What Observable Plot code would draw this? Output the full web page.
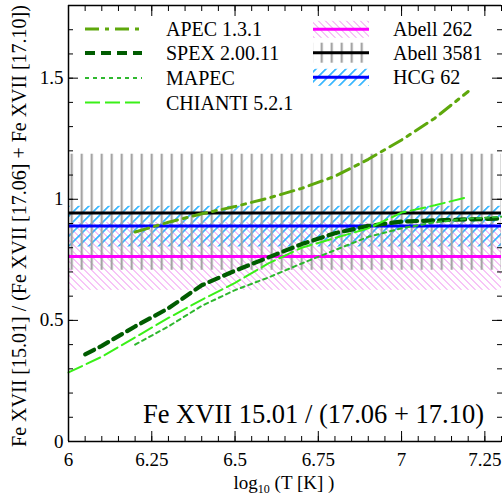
<!DOCTYPE html>
<html>
<head>
<meta charset="utf-8">
<script src="https://cdn.jsdelivr.net/npm/d3@7"></script>
<script src="https://cdn.jsdelivr.net/npm/@observablehq/plot@0.6"></script>
<style>
  html, body { margin: 0; padding: 0; background: #fff; overflow: hidden; }
  svg { display: block; }
</style>
</head>
<body>
<div id="chart"></div>
<script>
// Fe XVII 15.01 / (17.06 + 17.10) line ratio versus log10 temperature
const apecT = [6.2, 6.3, 6.4, 6.5, 6.6, 6.7, 6.8, 6.9, 7.0, 7.1, 7.2];
const apecR = [0.865, 0.905, 0.94, 0.97, 1.005, 1.045, 1.095, 1.165, 1.245, 1.335, 1.445];

const spexT = [6.05, 6.1, 6.2, 6.3, 6.4, 6.5, 6.6, 6.7, 6.8, 6.9, 7.0, 7.1, 7.2, 7.3];
const spexR = [0.36, 0.395, 0.475, 0.55, 0.645, 0.705, 0.76, 0.815, 0.86, 0.89, 0.908, 0.913, 0.917, 0.92];

const mapecT = [6.2, 6.3, 6.4, 6.5, 6.6, 6.7, 6.8, 6.9, 7.0, 7.1, 7.2, 7.3];
const mapecR = [0.40, 0.475, 0.56, 0.625, 0.677, 0.735, 0.79, 0.845, 0.88, 0.905, 0.92, 0.928];

const chiantiT = [6.0, 6.1, 6.2, 6.3, 6.4, 6.5, 6.6, 6.7, 6.8, 6.9, 7.0, 7.1, 7.2];
const chiantiR = [0.285, 0.35, 0.43, 0.51, 0.585, 0.655, 0.735, 0.80, 0.84, 0.88, 0.945, 0.975, 1.01];

// measured ratios for the groups and clusters, with their error ranges
const obsNames = ["Abell 262", "Abell 3581", "HCG 62"];
const obsRatio = [0.764, 0.943, 0.89];
const obsLow = [0.624, 0.707, 0.803];
const obsHigh = [0.904, 1.186, 0.971];

const xMajor = [6, 6.25, 6.5, 6.75, 7, 7.25];
const yMajor = [0, 0.5, 1, 1.5];
const xMinor = d3.range(0, 27).map(i => 6 + i * 0.05);
const yMinor = d3.range(0, 19).map(i => i * 0.1);

// drawing styles
const modelStyle = {
  "APEC 1.3.1":   {stroke: "#5ea80c", width: 3,   dash: "14,6,4,6"},
  "SPEX 2.00.11": {stroke: "#005c00", width: 4.2, dash: "10,6"},
  "MAPEC":        {stroke: "#2fb82f", width: 2,   dash: "4,4"},
  "CHIANTI 5.2.1":{stroke: "#3af018", width: 2,   dash: "15,5"}
};
const obsStyle = {
  "Abell 262":  {stroke: "#ff00ff", width: 3,   fill: "url(#hatch-a262)"},
  "Abell 3581": {stroke: "#000000", width: 3,   fill: "url(#bars-a3581)"},
  "HCG 62":     {stroke: "#0000ff", width: 3,   fill: "url(#hatch-hcg62)"}
};

const models = [
  ["APEC 1.3.1", apecT, apecR],
  ["SPEX 2.00.11", spexT, spexR],
  ["MAPEC", mapecT, mapecR],
  ["CHIANTI 5.2.1", chiantiT, chiantiR]
].map(([name, T, R]) => ({name, rows: T.map((t, i) => ({T: t, R: R[i]}))}));

const obs = obsNames.map((name, i) => ({name, ratio: obsRatio[i], low: obsLow[i], high: obsHigh[i]}));
const obsOf = name => obs.filter(d => d.name === name);

const fmt = d => String(+d.toFixed(2));
const serif = "'Liberation Serif', 'DejaVu Serif', serif";

const svg = Plot.plot({
  width: 502,
  height: 497,
  marginLeft: 68,
  marginRight: 1,
  marginTop: 5,
  marginBottom: 56,
  x: {domain: [6, 7.3]},
  y: {domain: [0, 1.8]},
  style: {fontFamily: serif, fontSize: "19px", color: "#000", background: "#fff"},
  marks: [
    // error bands
    Plot.rect(obsOf("Abell 262"), {y1: "low", y2: "high", fill: obsStyle["Abell 262"].fill}),
    Plot.rect(obsOf("HCG 62"), {y1: "low", y2: "high", fill: obsStyle["HCG 62"].fill}),
    Plot.rect(obsOf("Abell 3581"), {y1: "low", y2: "high", fill: obsStyle["Abell 3581"].fill}),
    // measured ratios
    ...["HCG 62", "Abell 3581", "Abell 262"].map(name =>
      Plot.ruleY(obsOf(name), {y: "ratio", stroke: obsStyle[name].stroke, strokeWidth: obsStyle[name].width})
    ),
    // model curves
    ...models.map(m => Plot.line(m.rows, {
      x: "T", y: "R",
      stroke: modelStyle[m.name].stroke,
      strokeWidth: modelStyle[m.name].width,
      strokeDasharray: modelStyle[m.name].dash
    })),
    // frame edges
    Plot.ruleX([6], {strokeWidth: 1.5}),
    Plot.ruleY([0, 1.8], {strokeWidth: 1.5}),
    // inward ticks on all four sides
    Plot.axisX({anchor: "bottom", ticks: xMinor, tickSize: 5, dy: -5, tickFormat: () => "", label: null}),
    Plot.axisX({anchor: "bottom", ticks: xMajor, tickSize: 10, dy: -10, tickFormat: () => "", label: null}),
    Plot.axisX({anchor: "top", ticks: xMinor, tickSize: 5, dy: 5, tickFormat: () => "", label: null}),
    Plot.axisX({anchor: "top", ticks: xMajor, tickSize: 10, dy: 10, tickFormat: () => "", label: null}),
    Plot.axisY({anchor: "left", ticks: yMinor, tickSize: 5, dx: 5, tickFormat: () => "", label: null}),
    Plot.axisY({anchor: "left", ticks: yMajor, tickSize: 10, dx: 10, tickFormat: () => "", label: null}),
    Plot.axisY({anchor: "right", ticks: yMinor, tickSize: 5, dx: -5, tickFormat: () => "", label: null}),
    Plot.axisY({anchor: "right", ticks: yMajor, tickSize: 10, dx: -10, tickFormat: () => "", label: null}),
    // tick labels
    Plot.axisX({anchor: "bottom", ticks: xMajor, tickSize: 0, tickPadding: 11, tickFormat: fmt, label: null}),
    Plot.axisY({anchor: "left", ticks: yMajor, tickSize: 0, tickPadding: 5, tickFormat: fmt, label: null})
  ]
});

const root = d3.select(svg);

// fill patterns for the error bands
const defs = root.insert("defs", ":first-child");
defs.append("pattern")
  .attr("id", "hatch-a262").attr("patternUnits", "userSpaceOnUse")
  .attr("width", 4.95).attr("height", 10).attr("patternTransform", "rotate(-45)")
  .append("line").attr("x1", 2.5).attr("x2", 2.5).attr("y1", 0).attr("y2", 10)
  .attr("stroke", "#f3a2f3").attr("stroke-width", 1);
defs.append("pattern")
  .attr("id", "hatch-hcg62").attr("patternUnits", "userSpaceOnUse")
  .attr("width", 7.07).attr("height", 10).attr("patternTransform", "rotate(45)")
  .append("line").attr("x1", 3.5).attr("x2", 3.5).attr("y1", 0).attr("y2", 10)
  .attr("stroke", "#14aaff").attr("stroke-width", 1.5);
defs.append("pattern")
  .attr("id", "bars-a3581").attr("patternUnits", "userSpaceOnUse")
  .attr("x", 0.6).attr("width", 10).attr("height", 10)
  .append("rect").attr("x", 0).attr("y", 0).attr("width", 2.2).attr("height", 10)
  .attr("fill", "#a4a4a4");

// legend
const legend = root.append("g").attr("font-family", serif).attr("font-size", 20)
  .attr("text-anchor", "start");
const leftRows = [29, 53, 78, 102.5];
Object.keys(modelStyle).forEach((name, i) => {
  const s = modelStyle[name], y = leftRows[i];
  legend.append("line").attr("x1", 85).attr("x2", 142).attr("y1", y).attr("y2", y)
    .attr("stroke", s.stroke).attr("stroke-width", s.width).attr("stroke-dasharray", s.dash);
  legend.append("text").attr("x", 166).attr("y", y + 7).text(name);
});
const rightRows = [29.3, 52.7, 77.3];
const boxHalf = {"Abell 262": 8.5, "Abell 3581": 10, "HCG 62": 8.5};
obsNames.forEach((name, i) => {
  const s = obsStyle[name], y = rightRows[i];
  legend.append("rect").attr("x", 313).attr("width", 56)
    .attr("y", y - boxHalf[name]).attr("height", 2 * boxHalf[name]).attr("fill", s.fill);
  legend.append("line").attr("x1", 313).attr("x2", 369).attr("y1", y).attr("y2", y)
    .attr("stroke", s.stroke).attr("stroke-width", s.width);
  legend.append("text").attr("x", 393).attr("y", y + 7).text(name);
});

// axis titles and panel annotation
const xLabel = root.append("text").attr("font-family", serif).attr("font-size", 19)
  .attr("text-anchor", "middle").attr("x", 284).attr("y", 489);
xLabel.append("tspan").text("log");
xLabel.append("tspan").attr("font-size", 12).attr("dy", 4).text("10");
xLabel.append("tspan").attr("dy", -4).text(" (T [K] )");

root.append("text").attr("font-family", serif).attr("font-size", 20)
  .attr("text-anchor", "middle").attr("transform", "translate(26,226) rotate(-90)")
  .text("Fe XVII [15.01] / (Fe XVII [17.06] + Fe XVII [17.10])");

root.append("text").attr("font-family", serif).attr("font-size", 26.5)
  .attr("text-anchor", "end").attr("x", 484).attr("y", 423)
  .text("Fe XVII 15.01 / (17.06 + 17.10)");

document.getElementById("chart").appendChild(svg);
</script>
</body>
</html>
